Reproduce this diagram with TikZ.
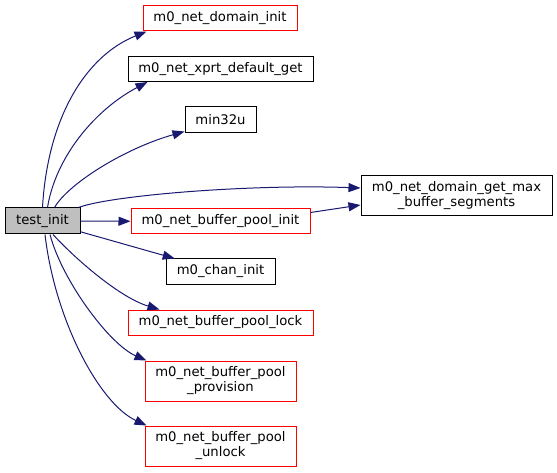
\documentclass[tikz,border=0pt]{standalone}
\usepackage{fontspec}
\setmainfont{DejaVu Sans}
\usepackage{xcolor}
\usetikzlibrary{arrows.meta, positioning}

\definecolor{callblue}{HTML}{191970}

\begin{document}
\begin{tikzpicture}[
    x=1pt, y=1pt,
    func/.style={rectangle, draw=black, fill=white, line width=1pt, inner sep=1pt, minimum height=25pt, align=center, font=\fontsize{13.2}{15}\selectfont},
    linked/.style={func, draw=red},
    current/.style={func, fill=gray!50},
    call/.style={-{Triangle[length=12pt, width=9pt]}, draw=callblue, line width=1pt},
]
    \useasboundingbox (0,0) rectangle (557,-473);

    % Caller
    \node[current, minimum width=75pt, minimum height=26pt] (test) at (42.5,-221) {test\_init};

    % Callees
    \node[linked, minimum width=154pt] (dominit) at (220,-18.5) {m0\_net\_domain\_init};
    \node[func, minimum width=185pt] (xprt) at (220.5,-69) {m0\_net\_xprt\_default\_get};
    \node[func, minimum width=71pt, minimum height=26pt] (min) at (220.5,-120) {min32u};
    \node[func, minimum width=191pt, minimum height=40pt] (getmax) at (456.5,-196) {m0\_net\_domain\_get\_max\\\_buffer\_segments};
    \node[linked, minimum width=179pt] (bpinit) at (220.5,-221.5) {m0\_net\_buffer\_pool\_init};
    \node[func, minimum width=109pt] (chan) at (220.5,-271.5) {m0\_chan\_init};
    \node[linked, minimum width=185pt] (bplock) at (220.5,-322.5) {m0\_net\_buffer\_pool\_lock};
    \node[linked, minimum width=151pt, minimum height=40pt] (bpprov) at (220.5,-381) {m0\_net\_buffer\_pool\\\_provision};
    \node[linked, minimum width=151pt, minimum height=40pt] (bpunlock) at (220.5,-446) {m0\_net\_buffer\_pool\\\_unlock};

    % Calls upwards
    \draw[call] (test.north) .. controls +(5,88) and +(-62,-25) .. ([xshift=4pt]dominit.south west);
    \draw[call] ([xshift=5pt]test.north) .. controls +(8,50) and +(-53,-28) .. ([xshift=20pt]xprt.south west);
    \draw[call] ([xshift=12pt]test.north) .. controls +(14,24) and +(-60,-17) .. ([yshift=2pt]min.south west);
    \draw[call] ([xshift=-2pt]test.north east) .. controls +(32,12) and +(-112,4) .. ([yshift=8pt]getmax.west);

    % Straight calls
    \draw[call] (test) -- (bpinit);
    \draw[call] ([yshift=9pt]bpinit.east) -- ([yshift=-9pt]getmax.west);
    \draw[call] (test) -- (chan);

    % Calls downwards
    \draw[call] ([xshift=10.5pt]test.south) .. controls +(22,-24) and +(-40,12) .. ([xshift=32pt]bplock.north west);
    \draw[call] ([xshift=7.5pt]test.south) .. controls +(12,-46) and +(-37,16) .. ([xshift=2pt]bpprov.north west);
    \draw[call] ([xshift=2.5pt]test.south) .. controls +(10,-86) and +(-47,22) .. ([xshift=2pt]bpunlock.north west);

\end{tikzpicture}
\end{document}
